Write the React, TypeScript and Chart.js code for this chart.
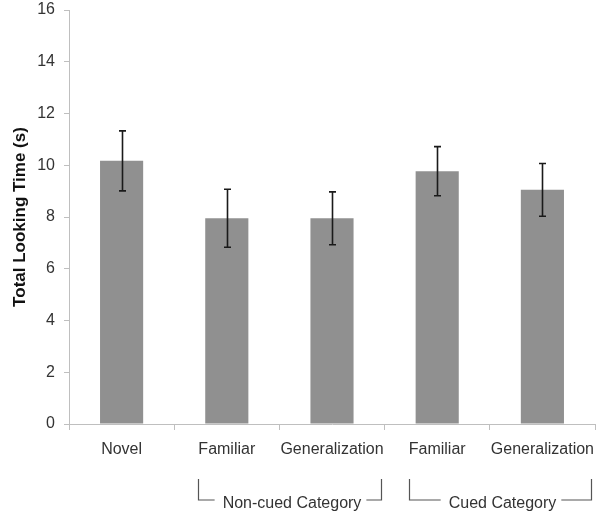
import React, { useEffect, useRef } from "react";
import { Chart, registerables } from "chart.js";
Chart.register(...registerables);

const categories = ["Novel", "Familiar", "Generalization", "Familiar", "Generalization"];
const values = [10.17, 7.95, 7.95, 9.77, 9.05];
const errors = [1.16, 1.12, 1.02, 0.95, 1.02];
const yTicks = [0, 2, 4, 6, 8, 10, 12, 14, 16];
const groups = [
  { label: "Non-cued Category", from: 1, to: 2 },
  { label: "Cued Category", from: 3, to: 4 },
];

const FONT = '"Liberation Sans", Arial, sans-serif';

const errorBarPlugin = {
  id: "errorBars",
  afterDatasetsDraw(chart: any) {
    const ctx = chart.ctx;
    const xs = chart.scales.x;
    const ys = chart.scales.y;
    ctx.save();
    ctx.strokeStyle = "#1a1a1a";
    ctx.lineWidth = 1.6;
    values.forEach((v, i) => {
      const x = Math.round(xs.getPixelForValue(i)) + 0.5;
      const top = ys.getPixelForValue(v + errors[i]);
      const bot = ys.getPixelForValue(v - errors[i]);
      ctx.beginPath();
      ctx.moveTo(x, top);
      ctx.lineTo(x, bot);
      ctx.moveTo(x - 3.5, top);
      ctx.lineTo(x + 3.5, top);
      ctx.moveTo(x - 3.5, bot);
      ctx.lineTo(x + 3.5, bot);
      ctx.stroke();
    });
    ctx.restore();
  },
};

const groupPlugin = {
  id: "groupBrackets",
  afterDraw(chart: any) {
    const ctx = chart.ctx;
    const xs = chart.scales.x;
    const half = (xs.getPixelForValue(1) - xs.getPixelForValue(0)) / 2;
    ctx.save();
    ctx.font = `16px ${FONT}`;
    ctx.fillStyle = "#333";
    ctx.strokeStyle = "#555";
    ctx.lineWidth = 1.2;
    ctx.textBaseline = "middle";
    ctx.textAlign = "center";
    const yTop = 479;
    const yLine = 500;
    const yText = 504;
    groups.forEach((g) => {
      const left = Math.round(xs.getPixelForValue(g.from) - half + 24) + 0.5;
      const right = Math.round(xs.getPixelForValue(g.to) + half - 4) + 0.5;
      const cx = (left + right) / 2 + 2;
      const tw = ctx.measureText(g.label).width;
      ctx.fillText(g.label, cx, yText);
      ctx.beginPath();
      ctx.moveTo(left, yTop);
      ctx.lineTo(left, yLine);
      ctx.lineTo(cx - tw / 2 - 8, yLine);
      ctx.moveTo(cx + tw / 2 + 5, yLine);
      ctx.lineTo(right, yLine);
      ctx.lineTo(right, yTop);
      ctx.stroke();
    });
    ctx.restore();
  },
};

export default function App() {
  const ref = useRef<HTMLCanvasElement>(null);
  useEffect(() => {
    const chart = new Chart(ref.current!, {
      type: "bar",
      data: {
        labels: categories,
        datasets: [
          {
            data: values,
            backgroundColor: "#909090",
            borderWidth: 0,
            barPercentage: 0.41,
            categoryPercentage: 1,
          },
        ],
      },
      options: {
        animation: false,
        responsive: false,
        maintainAspectRatio: false,
        layout: { padding: { top: 10, right: 5, left: 0, bottom: 0 } },
        plugins: { legend: { display: false }, tooltip: { enabled: false } },
        scales: {
          x: {
            afterFit(scale: any) {
              scale.height = 95;
              scale.paddingLeft = 0;
              scale.paddingRight = 0;
            },
            grid: {
              display: true,
              drawOnChartArea: false,
              offset: true,
              tickLength: 6,
              color: "#bfbfbf",
            },
            border: { color: "#bfbfbf", width: 1 },
            ticks: {
              color: "#333",
              font: { family: FONT, size: 16 },
              padding: 10,
              maxRotation: 0,
              autoSkip: false,
            },
          },
          y: {
            min: 0,
            max: 16,
            afterFit(scale: any) {
              scale.width = 69;
              scale.paddingTop = 0;
              scale.paddingBottom = 0;
            },
            afterBuildTicks(scale: any) {
              scale.ticks = yTicks.map((v) => ({ value: v }));
            },
            grid: {
              display: true,
              drawOnChartArea: false,
              tickLength: 5,
              color: "#bfbfbf",
            },
            border: { color: "#bfbfbf", width: 1 },
            ticks: {
              color: "#333",
              font: { family: FONT, size: 16 },
              padding: 9,
            },
            title: {
              display: true,
              text: "Total Looking Time (s)",
              color: "#111",
              font: { family: FONT, size: 17, weight: "bold" },
              padding: { top: 10, bottom: 2 },
            },
          },
        },
      },
      plugins: [errorBarPlugin, groupPlugin],
    } as any);
    return () => chart.destroy();
  }, []);
  return (
    <div style={{ position: "fixed", left: 0, top: 0, width: 600, height: 519, background: "#fff" }}>
      <canvas ref={ref} width={600} height={519} style={{ width: 600, height: 519 }} />
    </div>
  );
}
